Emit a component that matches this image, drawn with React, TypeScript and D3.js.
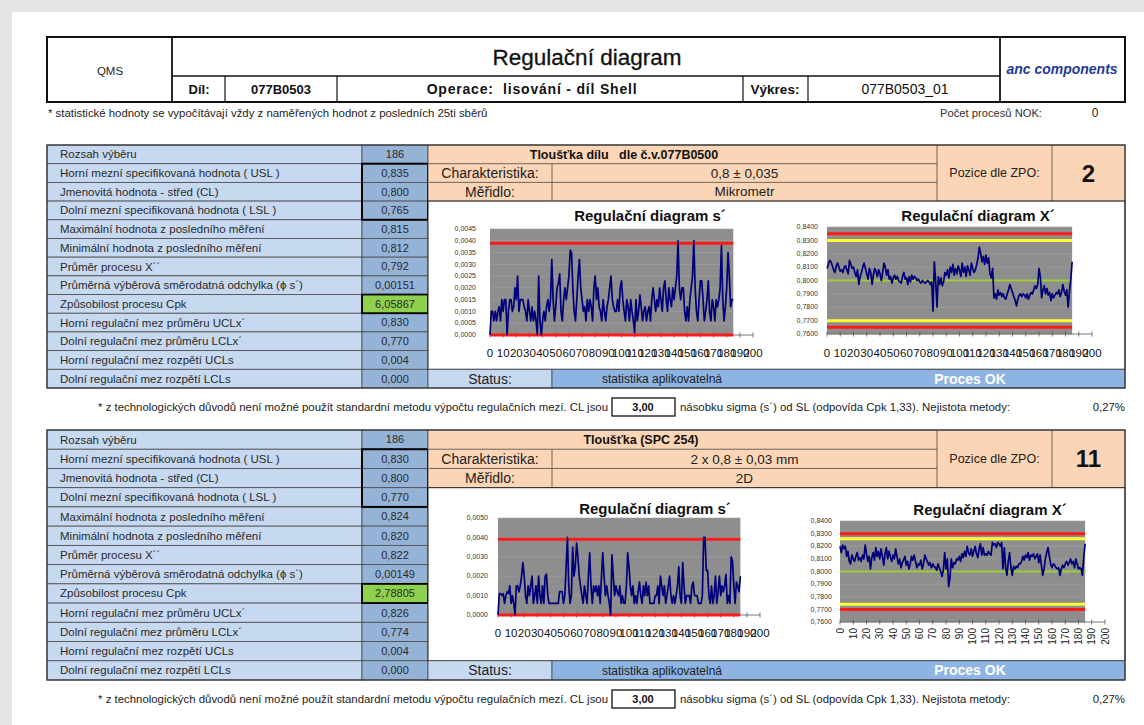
import React from "react";
import * as d3 from "d3";

const W = 1144;
const H = 725;
const FONT = "'Liberation Sans', Arial, sans-serif";

const rowLabels = [
  "Rozsah výběru",
  "Horní mezní specifikovaná hodnota ( USL )",
  "Jmenovitá hodnota - střed (CL)",
  "Dolní mezní specifikovaná hodnota ( LSL )",
  "Maximální hodnota z posledního měření",
  "Minimální hodnota z posledního měření",
  "Průměr procesu X´´",
  "Průměrná výběrová směrodatná odchylka (ϕ s´)",
  "Způsobilost procesu Cpk",
  "Horní regulační mez průměru UCLx´",
  "Dolní regulační mez průměru LCLx´",
  "Horní regulační mez rozpětí UCLs",
  "Dolní regulační mez rozpětí LCLs",
];
const valuesTop = ["186", "0,835", "0,800", "0,765", "0,815", "0,812", "0,792", "0,00151", "6,05867", "0,830", "0,770", "0,004", "0,000"];
const valuesBottom = ["186", "0,830", "0,800", "0,770", "0,824", "0,820", "0,822", "0,00149", "2,78805", "0,826", "0,774", "0,004", "0,000"];

const categoryTicks = [0, 10, 20, 30, 40, 50, 60, 70, 80, 90, 100, 110, 120, 130, 140, 150, 160, 170, 180, 190, 200];
const sTicksTop = [0, 0.0005, 0.001, 0.0015, 0.002, 0.0025, 0.003, 0.0035, 0.004, 0.0045];
const sTicksBottom = [0, 0.001, 0.002, 0.003, 0.004, 0.005];
const xbarTicks = [0.76, 0.77, 0.78, 0.79, 0.8, 0.81, 0.82, 0.83, 0.84];

// s´ per sample, in µm
const sTopUm = [
  0, 1.0, 1.0, 0.6, 1.0, 0.6, 1.0, 1.2, 0.6, 1.5, 1.0, 1.5, 1.5, 0, 1.0, 1.5, 1.5, 1.0, 1.2, 2.0,
  1.5, 2.5, 1.0, 1.5, 1.5, 1.5, 1.2, 1.0, 0.6, 1.5, 1.0, 0.6, 1.2, 0.6, 1.0, 0.6, 0, 2.5, 0.6, 0,
  0.6, 1.0, 0.6, 1.2, 1.5, 1.0, 1.5, 3.2, 1.5, 0.6, 1.2, 2.0, 2.2, 2.6, 1.0, 0.6, 1.5, 2.0, 1.5, 2.0,
  2.5, 3.6, 3.5, 2.0, 1.0, 0.6, 1.5, 2.5, 3.2, 2.0, 1.5, 1.0, 1.2, 0.6, 1.5, 1.0, 1.5, 1.2, 0.6, 2.0,
  2.5, 1.5, 2.0, 1.2, 1.0, 0.6, 1.5, 1.0, 0.6, 1.2, 1.5, 2.0, 2.5, 1.5, 1.2, 1.0, 1.0, 1.5, 1.0, 2.0,
  2.3, 1.5, 1.0, 0.6, 1.5, 1.2, 0.6, 1.5, 1.0, 0.6, 0.1, 1.5, 0.6, 1.0, 1.7, 1.2, 0.6, 1.0, 1.2, 0.6,
  1.0, 1.2, 0.6, 1.5, 2.0, 1.5, 1.0, 1.5, 1.2, 2.0, 1.5, 1.0, 2.0, 2.3, 1.5, 1.0, 2.0, 1.5, 1.2, 2.0,
  1.5, 2.0, 2.5, 4.0, 2.0, 1.5, 2.0, 2.0, 1.0, 0.6, 1.2, 0.6, 1.5, 2.0, 2.5, 4.0, 2.0, 1.0, 0.6, 1.5,
  2.3, 2.3, 1.5, 0.6, 1.0, 1.5, 2.3, 1.0, 0.6, 1.5, 1.2, 0.6, 1.5, 1.2, 1.5, 2.0, 3.8, 1.5, 0.6, 1.2,
  2.0, 3.5, 2.5, 1.2, 1.5, 1.5,
];

// X´ per sample, mm
const xTop = [
  0.809, 0.812, 0.815, 0.814, 0.811, 0.808, 0.806, 0.811, 0.813, 0.810, 0.807, 0.808, 0.806, 0.810, 0.811, 0.808, 0.805, 0.815, 0.812, 0.809,
  0.810, 0.806, 0.803, 0.808, 0.797, 0.803, 0.806, 0.810, 0.813, 0.809, 0.805, 0.801, 0.809, 0.806, 0.797, 0.804, 0.809, 0.807, 0.803, 0.808,
  0.805, 0.800, 0.806, 0.813, 0.810, 0.804, 0.808, 0.801, 0.803, 0.798, 0.802, 0.804, 0.801, 0.803, 0.800, 0.799, 0.798, 0.803, 0.806, 0.801,
  0.802, 0.797, 0.803, 0.799, 0.804, 0.801, 0.803, 0.802, 0.800, 0.801, 0.799, 0.798, 0.800, 0.799, 0.798, 0.799, 0.800, 0.799, 0.797, 0.799,
  0.777, 0.814, 0.800, 0.780, 0.803, 0.797, 0.802, 0.796, 0.799, 0.806, 0.804, 0.808, 0.802, 0.810, 0.806, 0.812, 0.804, 0.809, 0.805, 0.811,
  0.808, 0.803, 0.813, 0.806, 0.810, 0.803, 0.811, 0.808, 0.804, 0.813, 0.809, 0.806, 0.808, 0.812, 0.817, 0.825, 0.820, 0.814, 0.818, 0.812,
  0.819, 0.813, 0.817, 0.805, 0.802, 0.809, 0.787, 0.790, 0.786, 0.793, 0.789, 0.791, 0.788, 0.790, 0.787, 0.786, 0.790, 0.793, 0.797, 0.794,
  0.791, 0.788, 0.785, 0.781, 0.786, 0.789, 0.790, 0.788, 0.790, 0.789, 0.787, 0.790, 0.786, 0.789, 0.791, 0.790, 0.793, 0.796, 0.794, 0.797,
  0.809, 0.803, 0.787, 0.793, 0.796, 0.790, 0.794, 0.789, 0.791, 0.785, 0.790, 0.787, 0.789, 0.791, 0.790, 0.793, 0.788, 0.791, 0.797, 0.792,
  0.789, 0.793, 0.780, 0.792, 0.801, 0.814,
];

const sBottomUm = [
  0, 1.1, 1.1, 1.0, 1.1, 0.6, 1.0, 1.2, 1.1, 1.5, 0.6, 1.0, 0.6, 0, 1.5, 1.5, 1.2, 1.5, 2.0, 2.7,
  2.0, 1.0, 0.6, 1.5, 1.0, 1.5, 2.0, 0.6, 1.0, 1.5, 0.6, 2.0, 1.0, 0.6, 1.5, 0.6, 2.0, 2.1, 1.0, 0.6,
  0.6, 0.6, 0.6, 0.6, 0.6, 0.6, 0.6, 1.2, 1.2, 1.2, 0.6, 1.0, 2.5, 4.0, 1.5, 0.6, 1.0, 3.5, 2.0, 2.5,
  3.7, 3.0, 2.0, 1.5, 1.0, 0.6, 1.5, 1.0, 0.6, 2.0, 3.2, 1.5, 0.6, 1.5, 1.2, 1.5, 1.0, 1.5, 0.6, 2.0,
  3.2, 2.0, 1.0, 1.5, 1.0, 0.6, 0, 3.1, 2.0, 1.0, 1.5, 1.2, 1.0, 1.5, 0.6, 1.0, 0.6, 0.6, 1.5, 3.2,
  2.5, 1.5, 1.0, 1.5, 0.6, 1.0, 0.6, 1.2, 1.7, 1.0, 0.6, 1.5, 1.0, 1.7, 1.0, 1.5, 0.6, 0.6, 0.6, 0.6,
  1.0, 1.0, 1.5, 0.6, 2.0, 1.5, 1.0, 1.5, 0.6, 1.0, 1.5, 2.0, 1.0, 0.6, 1.0, 0.6, 1.0, 1.5, 2.5, 1.0,
  0.6, 2.7, 1.5, 0.6, 1.0, 1.0, 1.0, 0.6, 1.5, 1.7, 1.0, 1.0, 1.0, 0.6, 0.6, 0.6, 1.0, 4.0, 4.0, 2.3,
  2.3, 1.0, 0.6, 1.5, 0.6, 1.0, 2.0, 0.6, 1.2, 2.0, 1.0, 1.5, 1.2, 1.5, 2.1, 0.6, 1.0, 0.6, 3.0, 2.8,
  1.5, 0.6, 1.7, 1.5, 1.2, 2.0,
];

const xBottom = [
  0.820, 0.815, 0.821, 0.818, 0.820, 0.812, 0.816, 0.808, 0.806, 0.813, 0.810, 0.808, 0.812, 0.815, 0.809, 0.811, 0.808, 0.813, 0.810, 0.821,
  0.814, 0.808, 0.812, 0.802, 0.811, 0.815, 0.809, 0.819, 0.812, 0.816, 0.810, 0.818, 0.812, 0.805, 0.814, 0.819, 0.810, 0.816, 0.812, 0.808,
  0.813, 0.810, 0.818, 0.812, 0.806, 0.810, 0.803, 0.807, 0.809, 0.812, 0.805, 0.808, 0.802, 0.806, 0.812, 0.809, 0.813, 0.808, 0.803, 0.806,
  0.805, 0.809, 0.802, 0.806, 0.813, 0.810, 0.808, 0.805, 0.807, 0.803, 0.806, 0.804, 0.803, 0.801, 0.806, 0.803, 0.800, 0.796, 0.801, 0.815,
  0.802, 0.810, 0.788, 0.795, 0.810, 0.803, 0.807, 0.806, 0.810, 0.809, 0.812, 0.808, 0.814, 0.811, 0.816, 0.812, 0.820, 0.815, 0.813, 0.818,
  0.812, 0.816, 0.820, 0.814, 0.811, 0.818, 0.822, 0.813, 0.819, 0.813, 0.814, 0.813, 0.816, 0.814, 0.813, 0.823, 0.821, 0.822, 0.819, 0.823,
  0.822, 0.820, 0.823, 0.802, 0.819, 0.803, 0.797, 0.808, 0.815, 0.803, 0.797, 0.804, 0.802, 0.804, 0.803, 0.806, 0.806, 0.808, 0.812, 0.809,
  0.813, 0.811, 0.815, 0.809, 0.813, 0.812, 0.814, 0.810, 0.812, 0.814, 0.807, 0.813, 0.805, 0.797, 0.802, 0.810, 0.815, 0.819, 0.812, 0.806,
  0.803, 0.806, 0.805, 0.803, 0.802, 0.803, 0.797, 0.802, 0.805, 0.803, 0.806, 0.808, 0.805, 0.807, 0.810, 0.806, 0.808, 0.803, 0.810, 0.806,
  0.802, 0.803, 0.802, 0.797, 0.812, 0.822,
];

const RED = "#ff1a1a";
const YELLOW = "#ffff33";
const GREEN = "#9ccc3c";
const LIGHT_BLUE = "#c6d9f0";
const MID_BLUE = "#95b3d7";
const STATUS_BLUE = "#8db4e2";
const ORANGE = "#fbd5b5";

const comma = (f: string) => (v: number) => d3.format(f)(v).replace(".", ",");

type Limit = { v: number; c: string; w: number };
type ChartCfg = {
  title: string;
  titleX: number;
  titleY: number;
  gx0: number;
  gx1: number;
  yTop: number;
  yBot: number;
  domain: [number, number];
  ticks: number[];
  labelRight: number;
  labelY: number;
  data: number[];
  limits: Limit[];
  rotated?: boolean;
};

function Chart({ cfg }: { cfg: ChartCfg }) {
  const x = d3.scaleLinear().domain([0, 200]).range([cfg.gx0, cfg.gx1]);
  const y = d3.scaleLinear().domain(cfg.domain).range([cfg.yBot, cfg.yTop]);
  const grayEnd = x(cfg.data.length - 1);
  const line = d3
    .line<number>()
    .x((_, i) => x(i))
    .y((d) => y(d));
  const fmt = comma(".4f");
  return (
    <g fontFamily={FONT}>
      <text x={cfg.titleX} y={cfg.titleY} textAnchor="middle" fontSize={15} fontWeight="bold" fill="#111">
        {cfg.title}
      </text>
      <rect x={cfg.gx0} y={cfg.yTop} width={grayEnd - cfg.gx0} height={cfg.yBot - cfg.yTop} fill="#8e8e8e" />
      {cfg.ticks.map((t) => (
        <g key={t}>
          <line x1={cfg.gx0} x2={grayEnd} y1={y(t)} y2={y(t)} stroke="#a2a2a2" strokeWidth={0.6} />
          <text x={cfg.labelRight} y={y(t)} dy="0.32em" textAnchor="end" fontSize={7} fill="#333">
            {fmt(t)}
          </text>
        </g>
      ))}
      <line x1={cfg.gx0} x2={cfg.gx1} y1={cfg.yBot} y2={cfg.yBot} stroke="#555" strokeWidth={0.8} />
      {categoryTicks.map((t) => (
        <g key={t}>
          <line x1={x(t)} x2={x(t)} y1={cfg.yBot - 2.5} y2={cfg.yBot + 2.5} stroke="#555" strokeWidth={0.8} />
          {cfg.rotated ? (
            <text
              transform={`translate(${x(t) + 3.5},${cfg.labelY}) rotate(-90)`}
              textAnchor="end"
              fontSize={10}
              fill="#222"
            >
              {t}
            </text>
          ) : (
            <text x={x(t)} y={cfg.labelY} textAnchor="middle" fontSize={11.5} fill="#111">
              {t}
            </text>
          )}
        </g>
      ))}
      {cfg.limits.map((l, i) => (
        <line key={i} x1={cfg.gx0} x2={grayEnd} y1={y(l.v)} y2={y(l.v)} stroke={l.c} strokeWidth={l.w} />
      ))}
      <path d={line(cfg.data) ?? ""} fill="none" stroke="#00007a" strokeWidth={1.7} strokeLinejoin="round" />
    </g>
  );
}

type SectionProps = {
  y0: number;
  y1: number;
  values: string[];
  heading: string;
  headingX: number;
  charakteristika: string;
  meridlo: string;
  pozice: string;
  charts: ChartCfg[];
};

function Section({ y0, y1, values, heading, headingX, charakteristika, meridlo, pozice, charts }: SectionProps) {
  const rows = d3.scaleBand<number>().domain(d3.range(rowLabels.length)).range([y0, y1]);
  const rh = rows.bandwidth();
  const L = 47;
  const VC = 362;
  const R0 = 428;
  const C1 = 552;
  const C2 = 937;
  const C3 = 1052;
  const RR = 1125;
  const mid = (i: number) => (rows(i) ?? 0) + rh / 2;
  const last = rowLabels.length - 1;
  const noteY = y1 + 19;
  return (
    <g fontFamily={FONT}>
      {rowLabels.map((lab, i) => (
        <g key={i}>
          <rect x={L} y={rows(i)} width={VC - L} height={rh} fill={LIGHT_BLUE} stroke="#4a4a4a" strokeWidth={0.8} />
          <rect
            x={VC}
            y={rows(i)}
            width={R0 - VC}
            height={rh}
            fill={i === 8 ? "#8fd14f" : MID_BLUE}
            stroke="#4a4a4a"
            strokeWidth={0.8}
          />
          <text x={60} y={mid(i)} dy="0.35em" fontSize={11.5} fill="#2a2a2a">
            {lab}
          </text>
          <text x={(VC + R0) / 2} y={mid(i)} dy="0.35em" textAnchor="middle" fontSize={11} fill="#2a2a2a">
            {values[i]}
          </text>
        </g>
      ))}
      <rect x={VC} y={rows(1)} width={R0 - VC} height={rh * 3} fill="none" stroke="#000" strokeWidth={2} />
      <rect x={VC} y={rows(8)} width={R0 - VC} height={rh} fill="none" stroke="#000" strokeWidth={1.8} />

      {/* orange header block */}
      <rect x={R0} y={y0} width={RR - R0} height={rh * 3} fill={ORANGE} stroke="#4a4a4a" strokeWidth={0.8} />
      <line x1={R0} x2={C2} y1={y0 + rh} y2={y0 + rh} stroke="#4a4a4a" strokeWidth={0.8} />
      <line x1={R0} x2={C2} y1={y0 + rh * 2} y2={y0 + rh * 2} stroke="#4a4a4a" strokeWidth={0.8} />
      <line x1={C1} x2={C1} y1={y0 + rh} y2={y0 + rh * 3} stroke="#4a4a4a" strokeWidth={0.8} />
      <line x1={C2} x2={C2} y1={y0} y2={y0 + rh * 3} stroke="#4a4a4a" strokeWidth={0.8} />
      <line x1={C3} x2={C3} y1={y0} y2={y0 + rh * 3} stroke="#4a4a4a" strokeWidth={0.8} />
      <text
        x={headingX}
        y={mid(0)}
        dy="0.35em"
        textAnchor="middle"
        fontSize={12.5}
        fontWeight="bold"
        fill="#111"
        style={{ whiteSpace: "pre" }}
      >
        {heading}
      </text>
      <text x={(R0 + C1) / 2} y={mid(1)} dy="0.35em" textAnchor="middle" fontSize={14} fill="#222">
        Charakteristika:
      </text>
      <text x={(C1 + C2) / 2} y={mid(1)} dy="0.35em" textAnchor="middle" fontSize={13.5} fill="#222">
        {charakteristika}
      </text>
      <text x={(R0 + C1) / 2} y={mid(2)} dy="0.35em" textAnchor="middle" fontSize={14} fill="#222">
        Měřidlo:
      </text>
      <text x={(C1 + C2) / 2} y={mid(2)} dy="0.35em" textAnchor="middle" fontSize={13.5} fill="#222">
        {meridlo}
      </text>
      <text x={(C2 + C3) / 2} y={y0 + rh * 1.5} dy="0.35em" textAnchor="middle" fontSize={12.5} fill="#222">
        Pozice dle ZPO:
      </text>
      <text x={(C3 + RR) / 2} y={y0 + rh * 1.5} dy="0.36em" textAnchor="middle" fontSize={24} fontWeight="bold" fill="#111">
        {pozice}
      </text>

      {/* chart area */}
      <rect x={R0} y={rows(3)} width={RR - R0} height={rh * 9} fill="#fff" stroke="#222" strokeWidth={1} />
      {charts.map((c, i) => (
        <Chart key={i} cfg={c} />
      ))}

      {/* status row */}
      <rect x={R0} y={rows(last)} width={C1 - R0} height={rh} fill={LIGHT_BLUE} stroke="#4a4a4a" strokeWidth={0.8} />
      <rect x={C1} y={rows(last)} width={RR - C1} height={rh} fill={STATUS_BLUE} stroke="#4a4a4a" strokeWidth={0.8} />
      <text x={490} y={mid(last)} dy="0.35em" textAnchor="middle" fontSize={14} fill="#222">
        Status:
      </text>
      <text x={662} y={mid(last)} dy="0.35em" textAnchor="middle" fontSize={12} fill="#222">
        statistika aplikovatelná
      </text>
      <text x={970} y={mid(last)} dy="0.35em" textAnchor="middle" fontSize={14} fontWeight="bold" fill="#fff">
        Proces OK
      </text>

      <rect x={L} y={y0} width={RR - L} height={y1 - y0} fill="none" stroke="#333" strokeWidth={1.2} />

      {/* footnote */}
      <text x={608} y={noteY} dy="0.35em" textAnchor="end" fontSize={11.4} fill="#222">
        * z technologických důvodů není možné použít standardní metodu výpočtu regulačních mezí. CL jsou
      </text>
      <rect x={612} y={noteY - 9} width={63} height={18} fill="#fff" stroke="#111" strokeWidth={1.3} />
      <text x={643} y={noteY} dy="0.35em" textAnchor="middle" fontSize={11} fontWeight="bold" fill="#111">
        3,00
      </text>
      <text x={680} y={noteY} dy="0.35em" fontSize={11.4} fill="#222">
        násobku sigma (s´) od SL (odpovída Cpk 1,33). Nejistota metody:
      </text>
      <text x={1125} y={noteY} dy="0.35em" textAnchor="end" fontSize={11.4} fill="#222">
        0,27%
      </text>
    </g>
  );
}

const topCharts: ChartCfg[] = [
  {
    title: "Regulační diagram s´",
    titleX: 650,
    titleY: 221,
    gx0: 490,
    gx1: 753,
    yTop: 229,
    yBot: 335,
    domain: [0, 0.0045],
    ticks: sTicksTop,
    labelRight: 476,
    labelY: 357,
    data: sTopUm.map((d) => d / 1000),
    limits: [
      { v: 0.0039, c: RED, w: 3 },
      { v: 0, c: RED, w: 3 },
    ],
  },
  {
    title: "Regulační diagram X´",
    titleX: 978,
    titleY: 221,
    gx0: 827,
    gx1: 1092,
    yTop: 227,
    yBot: 334,
    domain: [0.76, 0.84],
    ticks: xbarTicks,
    labelRight: 818,
    labelY: 357,
    data: xTop,
    limits: [
      { v: 0.835, c: RED, w: 3 },
      { v: 0.83, c: YELLOW, w: 3 },
      { v: 0.8, c: GREEN, w: 2.2 },
      { v: 0.77, c: YELLOW, w: 3 },
      { v: 0.765, c: RED, w: 3 },
    ],
  },
];

const bottomCharts: ChartCfg[] = [
  {
    title: "Regulační diagram s´",
    titleX: 655,
    titleY: 514,
    gx0: 498,
    gx1: 760,
    yTop: 518,
    yBot: 615,
    domain: [0, 0.005],
    ticks: sTicksBottom,
    labelRight: 488,
    labelY: 637,
    data: sBottomUm.map((d) => d / 1000),
    limits: [
      { v: 0.0039, c: RED, w: 3 },
      { v: 0, c: RED, w: 3 },
    ],
  },
  {
    title: "Regulační diagram X´",
    titleX: 990,
    titleY: 515,
    gx0: 840,
    gx1: 1105,
    yTop: 521,
    yBot: 622,
    domain: [0.76, 0.84],
    ticks: xbarTicks,
    labelRight: 832,
    labelY: 628,
    rotated: true,
    data: xBottom,
    limits: [
      { v: 0.83, c: RED, w: 3 },
      { v: 0.826, c: YELLOW, w: 3 },
      { v: 0.8, c: GREEN, w: 2.2 },
      { v: 0.774, c: YELLOW, w: 3 },
      { v: 0.77, c: RED, w: 3 },
    ],
  },
];

export default function App() {
  const hTop = 37;
  const hMid = 76;
  const hBot = 102;
  return (
    <svg
      width={W}
      height={H}
      viewBox={`0 0 ${W} ${H}`}
      style={{ position: "absolute", left: 0, top: 0, display: "block" }}
    >
      <rect width={W} height={H} fill="#e4e4e4" />
      <rect x={12} y={12} width={W - 12} height={H - 12} fill="#fff" />

      {/* header */}
      <g fontFamily={FONT}>
        <rect x={47} y={hTop} width={1125 - 47} height={hBot - hTop} fill="#fff" stroke="#111" strokeWidth={2} />
        <line x1={172} x2={172} y1={hTop} y2={hBot} stroke="#111" strokeWidth={1.8} />
        <line x1={1000} x2={1000} y1={hTop} y2={hBot} stroke="#111" strokeWidth={1.8} />
        <line x1={172} x2={1000} y1={hMid} y2={hMid} stroke="#111" strokeWidth={1.3} />
        {[225, 337, 743, 808].map((xv) => (
          <line key={xv} x1={xv} x2={xv} y1={hMid} y2={hBot} stroke="#111" strokeWidth={1.2} />
        ))}
        <text x={110} y={71} dy="0.35em" textAnchor="middle" fontSize={11.5} fill="#222">
          QMS
        </text>
        <text x={587} y={57} dy="0.35em" textAnchor="middle" fontSize={22.5} fill="#111" stroke="#111" strokeWidth={0.3}>
          Regulační diagram
        </text>
        <text x={199} y={89} dy="0.35em" textAnchor="middle" fontSize={13} fontWeight="bold" fill="#111">
          Díl:
        </text>
        <text x={281} y={89} dy="0.35em" textAnchor="middle" fontSize={13} fontWeight="bold" fill="#111">
          077B0503
        </text>
        <text
          x={532}
          y={89}
          dy="0.35em"
          textAnchor="middle"
          fontSize={14}
          fontWeight="bold"
          letterSpacing={0.8}
          fill="#111"
          style={{ whiteSpace: "pre" }}
        >
          {"Operace:  lisování - díl Shell"}
        </text>
        <text x={775} y={89} dy="0.35em" textAnchor="middle" fontSize={13.5} fontWeight="bold" fill="#111">
          Výkres:
        </text>
        <text x={905} y={89} dy="0.35em" textAnchor="middle" fontSize={14} fill="#111">
          077B0503_01
        </text>
        <text
          x={1062}
          y={69}
          dy="0.35em"
          textAnchor="middle"
          fontSize={14}
          fontWeight="bold"
          fontStyle="italic"
          fill="#1f3a96"
        >
          anc components
        </text>
        <text x={48} y={113} dy="0.35em" fontSize={11.4} fill="#222">
          * statistické hodnoty se vypočítávají vždy z naměřených hodnot z posledních 25ti sběrů
        </text>
        <text x={940} y={113} dy="0.35em" fontSize={11.2} fill="#333">
          Počet procesů NOK:
        </text>
        <text x={1095} y={113} dy="0.35em" textAnchor="middle" fontSize={12} fill="#222">
          0
        </text>
      </g>

      <Section
        y0={145}
        y1={388}
        values={valuesTop}
        heading="Tloušťka dílu   dle č.v.077B0500"
        headingX={624}
        charakteristika="0,8 ± 0,035"
        meridlo="Mikrometr"
        pozice="2"
        charts={topCharts}
      />
      <Section
        y0={430}
        y1={680}
        values={valuesBottom}
        heading="Tloušťka (SPC 254)"
        headingX={641}
        charakteristika="2 x 0,8 ± 0,03 mm"
        meridlo="2D"
        pozice="11"
        charts={bottomCharts}
      />
    </svg>
  );
}
